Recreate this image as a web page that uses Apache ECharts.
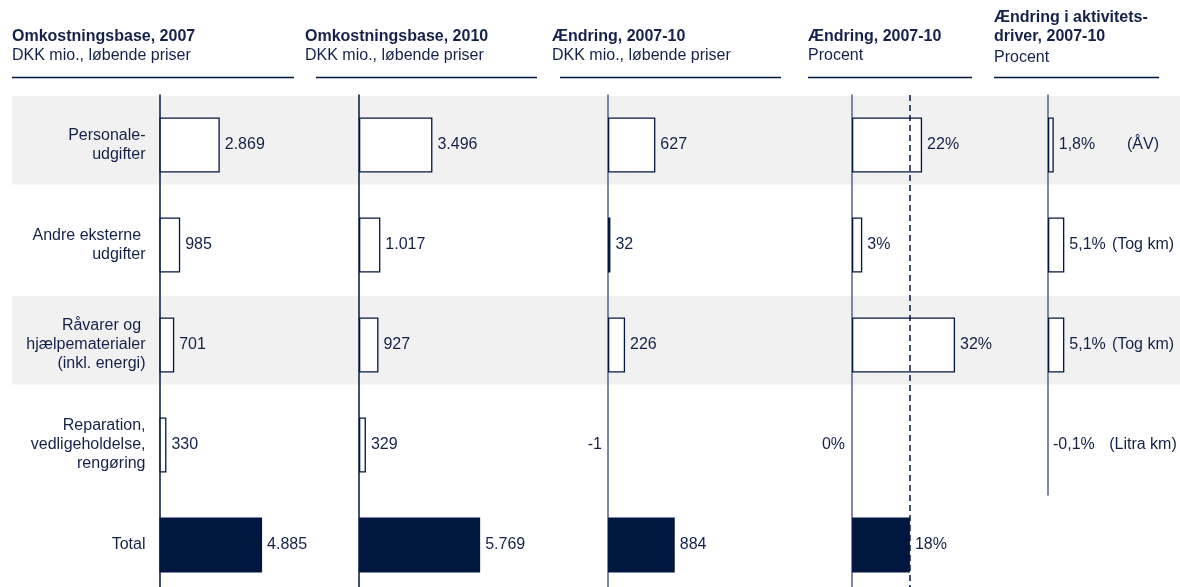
<!DOCTYPE html>
<html>
<head>
<meta charset="utf-8">
<script src="https://cdn.jsdelivr.net/npm/echarts@6/dist/echarts.min.js"></script>
<style>
  html, body { margin: 0; padding: 0; background: #fff; }
  #chart { width: 1180px; height: 587px; }
</style>
</head>
<body>
<div id="chart"></div>
<script>
// rows (top to bottom)
var rows = ['Personale-\nudgifter', 'Andre eksterne \nudgifter', 'Råvarer og \nhjælpematerialer\n(inkl. energi)', 'Reparation,\nvedligeholdelse,\nrengøring', 'Total'];
var base2007 = [2869, 985, 701, 330, 4885];
var base2010 = [3496, 1017, 927, 329, 5769];
var changeDkk = [627, 32, 226, -1, 884];
var changePct = [21.9, 3.2, 32.2, -0.3, 18.1];
var driverPct = [1.8, 5.1, 5.1, -0.1];
var driverNames = ['(ÅV)', '(Tog km)', '(Tog km)', '(Litra km)'];
var panelTitles = ['Omkostningsbase, 2007', 'Omkostningsbase, 2010', 'Ændring, 2007-10', 'Ændring, 2007-10', 'Ændring i aktivitets-\ndriver, 2007-10'];
var panelUnits = ['DKK mio., løbende priser', 'DKK mio., løbende priser', 'DKK mio., løbende priser', 'Procent', 'Procent'];

var NAVY = '#02173f';
var TEXT = '#14224a';
var AXIS_GREY = '#56608a';
var FONT = '"Liberation Sans", Arial, sans-serif';
var TOP = 95, ROW = 100;

function dkk(v) { return String(v).replace(/\B(?=(\d{3})+(?!\d))/g, '.'); }
function pct0(v) { return Math.round(v) + '%'; }
function pct1(v) { return v.toFixed(1).replace('.', ',') + '%'; }

var panels = [
  { left: 159.5, width: 210, max: 10000, data: base2007, fmt: dkk, axis: NAVY, tx: 12, ty: 27, line: [12, 294] },
  { left: 359, width: 210, max: 10000, data: base2010, fmt: dkk, axis: NAVY, tx: 305, ty: 27, line: [316, 537] },
  { left: 608, width: 151, max: 2000, data: changeDkk, fmt: dkk, axis: AXIS_GREY, negLeft: true, tx: 552, ty: 27, line: [560, 781] },
  { left: 852, width: 160, max: 50, data: changePct, fmt: pct0, axis: AXIS_GREY, negLeft: true, tx: 808, ty: 27, line: [808, 972] },
  { left: 1048, width: 80, max: 25, data: driverPct, fmt: pct1, axis: AXIS_GREY, tx: 994, ty: 8, line: [994, 1159] }
];

var grids = [], xAxes = [], yAxes = [], series = [], titles = [], graphics = [];

// grey bands behind row 1 and 3
[0, 2].forEach(function (r) {
  graphics.push({
    type: 'rect', z: -10,
    shape: { x: 12, y: TOP + r * ROW + 1, width: 1168, height: 88.5 },
    style: { fill: '#f1f1f1' }
  });
});

panels.forEach(function (p, i) {
  var n = p.data.length;
  grids.push({ left: p.left, top: TOP, width: p.width, height: n * ROW, outerBoundsMode: 'none', containLabel: false });
  xAxes.push({ gridIndex: i, type: 'value', min: 0, max: p.max, show: false });
  yAxes.push({
    gridIndex: i, type: 'category', inverse: true, data: rows.slice(0, n),
    axisLine: { show: true, lineStyle: { color: p.axis, width: 1.5 } },
    axisTick: { show: false }, splitLine: { show: false },
    axisLabel: {
      show: i === 0, align: 'right', margin: 14, color: TEXT,
      fontSize: 16, lineHeight: 19, fontFamily: FONT
    }
  });
  var s = {
    type: 'bar', xAxisIndex: i, yAxisIndex: i, barWidth: 55, clip: false,
    animation: false, silent: true,
    data: p.data.map(function (v, k) {
      var total = k === 4;
      var neg = v < 0;
      return {
        value: v,
        itemStyle: {
          color: total ? NAVY : (neg ? 'transparent' : '#fff'),
          borderColor: NAVY, borderWidth: (total || neg) ? 0 : 1.3
        },
        label: { position: (neg && p.negLeft) ? 'left' : 'right', distance: (neg && p.negLeft) ? 6 : 5 }
      };
    }),
    label: {
      show: true, color: TEXT, fontSize: 16, fontFamily: FONT,
      formatter: function (d) { return p.fmt(d.value); }
    }
  };
  if (i === 3) {
    s.markLine = {
      symbol: 'none', silent: true, animation: false, label: { show: false },
      lineStyle: { type: [6, 4], color: NAVY, width: 1.5 },
      data: [{ xAxis: changePct[4] }]
    };
  }
  series.push(s);

  titles.push({
    text: panelTitles[i], subtext: panelUnits[i],
    left: p.tx, top: p.ty, padding: 0, itemGap: i === 4 ? 2 : 0,
    textStyle: { fontSize: 16, fontWeight: 'bold', color: TEXT, lineHeight: 19, fontFamily: FONT },
    subtextStyle: { fontSize: 16, color: TEXT, lineHeight: 19, fontFamily: FONT }
  });
  graphics.push({
    type: 'line',
    shape: { x1: p.line[0], y1: 77.5, x2: p.line[1], y2: 77.5 },
    style: { stroke: NAVY, lineWidth: 1.6 }
  });
});

// driver names on the right of the last panel
yAxes.push({
  gridIndex: 4, type: 'category', inverse: true, data: driverNames, position: 'right',
  axisLine: { show: false, onZero: false }, axisTick: { show: false },
  axisLabel: { align: 'center', margin: 15, color: TEXT, fontSize: 16, fontFamily: FONT }
});

var myChart = echarts.init(document.getElementById('chart'));
myChart.setOption({
  animation: false,
  textStyle: { fontFamily: FONT },
  title: titles,
  grid: grids,
  xAxis: xAxes,
  yAxis: yAxes,
  series: series,
  graphic: graphics
});
</script>
</body>
</html>
